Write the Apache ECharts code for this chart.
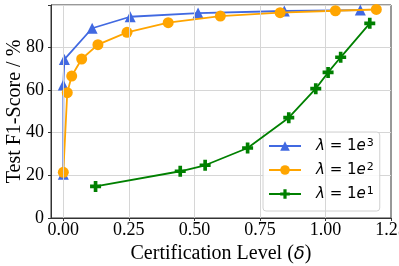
<!DOCTYPE html>
<html><head><meta charset="utf-8">
<script src="https://cdn.jsdelivr.net/npm/echarts@6/dist/echarts.min.js"></script>
<style>html,body{margin:0;padding:0;background:#fff}#c{width:399px;height:266px}</style>
</head><body><div id="c"></div>
<script>
const xTicks = [0, 0.25, 0.5, 0.75, 1.0, 1.25];
const yTicks = [0, 20, 40, 60, 80];
const blueX = [0, 0, 0.004, 0.11, 0.255, 0.514, 0.843, 1.133];
const blueY = [20.5, 62.3, 74.3, 88.9, 94.3, 96.0, 97.0, 97.4];
const orangeX = [0, 0.015, 0.032, 0.07, 0.132, 0.243, 0.40, 0.599, 0.827, 1.038, 1.194];
const orangeY = [21.4, 58.7, 66.5, 74.5, 81.2, 87.0, 91.5, 94.6, 96.2, 97.1, 97.7];
const greenX = [0.123, 0.446, 0.541, 0.703, 0.86, 0.963, 1.01, 1.058, 1.169];
const greenY = [14.8, 21.9, 24.7, 32.8, 47.0, 60.6, 68.2, 75.3, 91.2];
const names = ['λ = 1e3', 'λ = 1e2', 'λ = 1e1'];
const sups = ['3', '2', '1'];

const zip = (a, b) => a.map((v, i) => [v, b[i]]);
const plusPath = 'path://M-1,-3L1,-3L1,-1L3,-1L3,1L1,1L1,3L-1,3L-1,1L-3,1L-3,-1L-1,-1Z';
const serif = 'Liberation Serif';

const chart = echarts.init(document.getElementById('c'), null, {renderer: 'canvas'});
const gridLines = {
  silent: true, symbol: 'none', label: {show: false},
  lineStyle: {color: '#d6d6d6', type: 'solid', width: 1},
  data: xTicks.slice(0, 5).map(v => ({xAxis: v}))
};
chart.setOption({
  animation: false,
  grid: {left: 51, right: 8, top: 5, bottom: 48, show: true, borderColor: '#333', borderWidth: 1,
    backgroundColor: 'transparent', containLabel: false, outerBoundsMode: 'none'},
  xAxis: {
    type: 'value', min: -0.047, max: 1.25,
    axisLine: {show: true, onZero: false, lineStyle: {color: '#333'}},
    axisTick: {show: true, customValues: xTicks, length: 3, lineStyle: {color: '#333'}},
    axisLabel: {customValues: xTicks, fontFamily: serif, fontSize: 18, color: '#000', margin: 3,
      formatter: v => v.toFixed(2)},
    splitLine: {show: false},
    name: '{a|Certification Level (}{d|δ}{a|)}', nameLocation: 'middle', nameGap: 26, nameMoveOverlap: false,
    nameTextStyle: {rich: {a: {fontFamily: serif, fontSize: 20, color: '#000'},
      d: {fontFamily: 'DejaVu Sans', fontStyle: 'italic', fontSize: 18, color: '#000'}}}
  },
  yAxis: {
    type: 'value', min: 0, max: 99.8, interval: 20,
    axisLine: {show: true, onZero: false, lineStyle: {color: '#333'}},
    axisTick: {show: true, length: 3, lineStyle: {color: '#333'}},
    axisLabel: {fontFamily: serif, fontSize: 18, color: '#000', margin: 7,
      formatter: v => (Math.abs(v % 20) < 1e-6 ? String(v) : '')},
    splitLine: {show: true, lineStyle: {color: '#d6d6d6', width: 1}},
    name: 'Test F1-Score / %', nameLocation: 'middle', nameGap: 26, nameMoveOverlap: false,
    nameTextStyle: {fontFamily: serif, fontSize: 20, color: '#000'}
  },
  legend: {
    orient: 'vertical', left: 263, top: 132,
    padding: [6, 6, 8, 5], itemGap: 7, itemWidth: 32, itemHeight: 12,
    backgroundColor: 'rgba(255,255,255,0.85)', borderColor: '#d0d0d0', borderWidth: 1, borderRadius: 3,
    data: names,
    formatter: name => {
      const i = names.indexOf(name);
      return '{l|λ}{t| = 1}{l|e}{s|' + sups[i] + '}';
    },
    textStyle: {
      padding: [0, 0, 0, 10],
      rich: {
        l: {fontFamily: 'DejaVu Sans', fontStyle: 'italic', fontSize: 15, lineHeight: 16, color: '#000'},
        t: {fontFamily: 'DejaVu Sans', fontSize: 15, lineHeight: 16, color: '#000'},
        s: {fontFamily: 'DejaVu Sans', fontSize: 11, lineHeight: 16, color: '#000', verticalAlign: 'top', padding: [0, 0, 6, 1]}
      }
    }
  },
  series: [
    {name: names[0], type: 'line', data: zip(blueX, blueY), symbol: 'triangle', symbolSize: 11,
      color: '#4169E1', lineStyle: {width: 1.8, color: '#4169E1'}, itemStyle: {color: '#4169E1'}, z: 3,
      markLine: gridLines},
    {name: names[1], type: 'line', data: zip(orangeX, orangeY), symbol: 'circle', symbolSize: 11,
      color: '#FFA500', lineStyle: {width: 1.8, color: '#FFA500'}, itemStyle: {color: '#FFA500'}, z: 4},
    {name: names[2], type: 'line', data: zip(greenX, greenY), symbol: plusPath, symbolSize: 11,
      color: '#008000', lineStyle: {width: 1.8, color: '#008000'}, itemStyle: {color: '#008000'}, z: 5}
  ]
});
</script></body></html>
